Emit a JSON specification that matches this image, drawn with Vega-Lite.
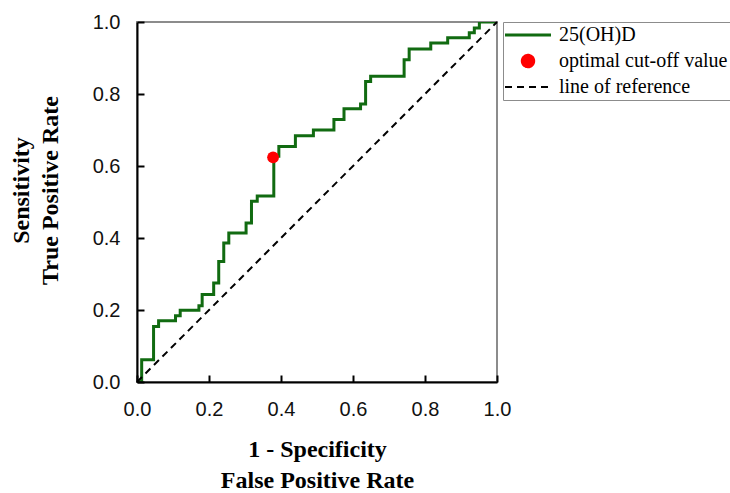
{
  "$schema": "https://vega.github.io/schema/vega-lite/v6.json",
  "width": 360,
  "height": 360,
  "autosize": "none",
  "padding": {"left": 137, "top": 22, "right": 233, "bottom": 111},
  "background": "white",
  "config": {
    "view": {"stroke": "#8c8c8c", "strokeWidth": 2},
    "axis": {
      "domainColor": "black", "domainWidth": 2,
      "ticks": true, "tickColor": "black", "tickWidth": 2, "tickOpacity": 1,
      "labelFont": "Liberation Sans", "labelFontSize": 20, "labelColor": "#111111",
      "labelFlush": false, "labelOverlap": false,
      "titleFont": "Liberation Serif", "titleFontSize": 24, "titleFontWeight": "bold",
      "titleColor": "black", "grid": false
    }
  },
  "layer": [
    {
      "data": {"values": [
        {"fpr": 0.0, "tpr": 0.0, "series": "25(OH)D"},
        {"fpr": 0.013, "tpr": 0.062, "series": "25(OH)D"},
        {"fpr": 0.046, "tpr": 0.154, "series": "25(OH)D"},
        {"fpr": 0.06, "tpr": 0.17, "series": "25(OH)D"},
        {"fpr": 0.107, "tpr": 0.184, "series": "25(OH)D"},
        {"fpr": 0.12, "tpr": 0.199, "series": "25(OH)D"},
        {"fpr": 0.172, "tpr": 0.212, "series": "25(OH)D"},
        {"fpr": 0.181, "tpr": 0.243, "series": "25(OH)D"},
        {"fpr": 0.213, "tpr": 0.275, "series": "25(OH)D"},
        {"fpr": 0.227, "tpr": 0.335, "series": "25(OH)D"},
        {"fpr": 0.241, "tpr": 0.386, "series": "25(OH)D"},
        {"fpr": 0.255, "tpr": 0.414, "series": "25(OH)D"},
        {"fpr": 0.303, "tpr": 0.442, "series": "25(OH)D"},
        {"fpr": 0.318, "tpr": 0.502, "series": "25(OH)D"},
        {"fpr": 0.334, "tpr": 0.517, "series": "25(OH)D"},
        {"fpr": 0.38, "tpr": 0.627, "series": "25(OH)D"},
        {"fpr": 0.394, "tpr": 0.654, "series": "25(OH)D"},
        {"fpr": 0.44, "tpr": 0.684, "series": "25(OH)D"},
        {"fpr": 0.49, "tpr": 0.70, "series": "25(OH)D"},
        {"fpr": 0.547, "tpr": 0.729, "series": "25(OH)D"},
        {"fpr": 0.575, "tpr": 0.759, "series": "25(OH)D"},
        {"fpr": 0.621, "tpr": 0.772, "series": "25(OH)D"},
        {"fpr": 0.635, "tpr": 0.835, "series": "25(OH)D"},
        {"fpr": 0.649, "tpr": 0.849, "series": "25(OH)D"},
        {"fpr": 0.742, "tpr": 0.895, "series": "25(OH)D"},
        {"fpr": 0.756, "tpr": 0.925, "series": "25(OH)D"},
        {"fpr": 0.816, "tpr": 0.942, "series": "25(OH)D"},
        {"fpr": 0.863, "tpr": 0.956, "series": "25(OH)D"},
        {"fpr": 0.923, "tpr": 0.97, "series": "25(OH)D"},
        {"fpr": 0.937, "tpr": 0.983, "series": "25(OH)D"},
        {"fpr": 0.951, "tpr": 1.0, "series": "25(OH)D"},
        {"fpr": 1.0, "tpr": 1.0, "series": "25(OH)D"}
      ]},
      "mark": {"type": "line", "interpolate": "step-after", "strokeWidth": 3, "clip": true},
      "encoding": {
        "x": {
          "field": "fpr", "type": "quantitative",
          "scale": {"domain": [0, 1], "nice": false, "zero": false},
          "axis": {
            "title": ["1 - Specificity", "False Positive Rate"],
            "titlePadding": 18, "titleLineHeight": 31, "zindex": 1,
            "ticks": true, "tickColor": "#000000", "tickOpacity": 1, "tickSize": -7, "tickWidth": 2,
            "labelPadding": 24,
            "values": [0, 0.1, 0.2, 0.3, 0.4, 0.5, 0.6, 0.7, 0.8, 0.9, 1.0],
            "labelExpr": "round(datum.value*10) % 2 == 0 ? format(datum.value, '.1f') : ''"
          }
        },
        "y": {
          "field": "tpr", "type": "quantitative",
          "scale": {"domain": [0, 1], "nice": false, "zero": false},
          "axis": {
            "title": ["Sensitivity", "True Positive Rate"],
            "titlePadding": 30, "titleLineHeight": 29, "titleY": 168, "zindex": 1,
            "ticks": true, "tickColor": "#000000", "tickOpacity": 1, "tickSize": -7, "tickWidth": 2,
            "labelPadding": 24,
            "values": [0, 0.1, 0.2, 0.3, 0.4, 0.5, 0.6, 0.7, 0.8, 0.9, 1.0],
            "labelExpr": "round(datum.value*10) % 2 == 0 ? format(datum.value, '.1f') : ''"
          }
        },
        "color": {
          "field": "series", "type": "nominal",
          "scale": {"domain": ["25(OH)D", "optimal cut-off value", "line of reference"], "range": ["#116b11", "#ff0000", "#000000"]},
          "legend": {
            "title": null,
            "orient": "none", "legendX": 366, "legendY": 0,
            "symbolType": "stroke", "symbolSize": 2116, "symbolStrokeWidth": 3,
            "symbolOffset": 13,
            "labelFont": "Liberation Serif", "labelFontSize": 20, "labelColor": "black", "labelOffset": 21,
            "labelLimit": 400,
            "strokeColor": "#8c8c8c", "fillColor": "white", "padding": 2,
            "clipHeight": 22, "rowPadding": 4,
            "encode": {"symbols": {"update": {
              "shape": {"signal": "datum.value === 'optimal cut-off value' ? 'circle' : 'stroke'"},
              "size": {"signal": "datum.value === 'optimal cut-off value' ? 130 : 2116"},
              "fill": {"signal": "datum.value === 'optimal cut-off value' ? '#ff0000' : 'transparent'"},
              "stroke": {"signal": "datum.value === 'optimal cut-off value' ? 'transparent' : (datum.value === 'line of reference' ? '#000000' : '#116b11')"},
              "strokeDash": {"signal": "datum.value === 'line of reference' ? [7, 5] : [1, 0]"},
              "strokeWidth": {"signal": "datum.value === 'line of reference' ? 2 : 3"},
              "opacity": {"value": 1}
            }}}
          }
        }
      }
    },
    {
      "data": {"values": [
        {"fpr": 0.0, "tpr": 0.0, "series": "line of reference"},
        {"fpr": 1.0, "tpr": 1.0, "series": "line of reference"}
      ]},
      "mark": {"type": "line", "strokeWidth": 2, "strokeDash": [7, 5]},
      "encoding": {
        "x": {"field": "fpr", "type": "quantitative"},
        "y": {"field": "tpr", "type": "quantitative"},
        "color": {"field": "series", "type": "nominal"}
      }
    },
    {
      "data": {"values": [
        {"fpr": 0.378, "tpr": 0.624, "series": "optimal cut-off value"}
      ]},
      "mark": {"type": "point", "filled": true, "opacity": 1, "size": 140},
      "encoding": {
        "x": {"field": "fpr", "type": "quantitative"},
        "y": {"field": "tpr", "type": "quantitative"},
        "color": {"field": "series", "type": "nominal"}
      }
    }
  ]
}
